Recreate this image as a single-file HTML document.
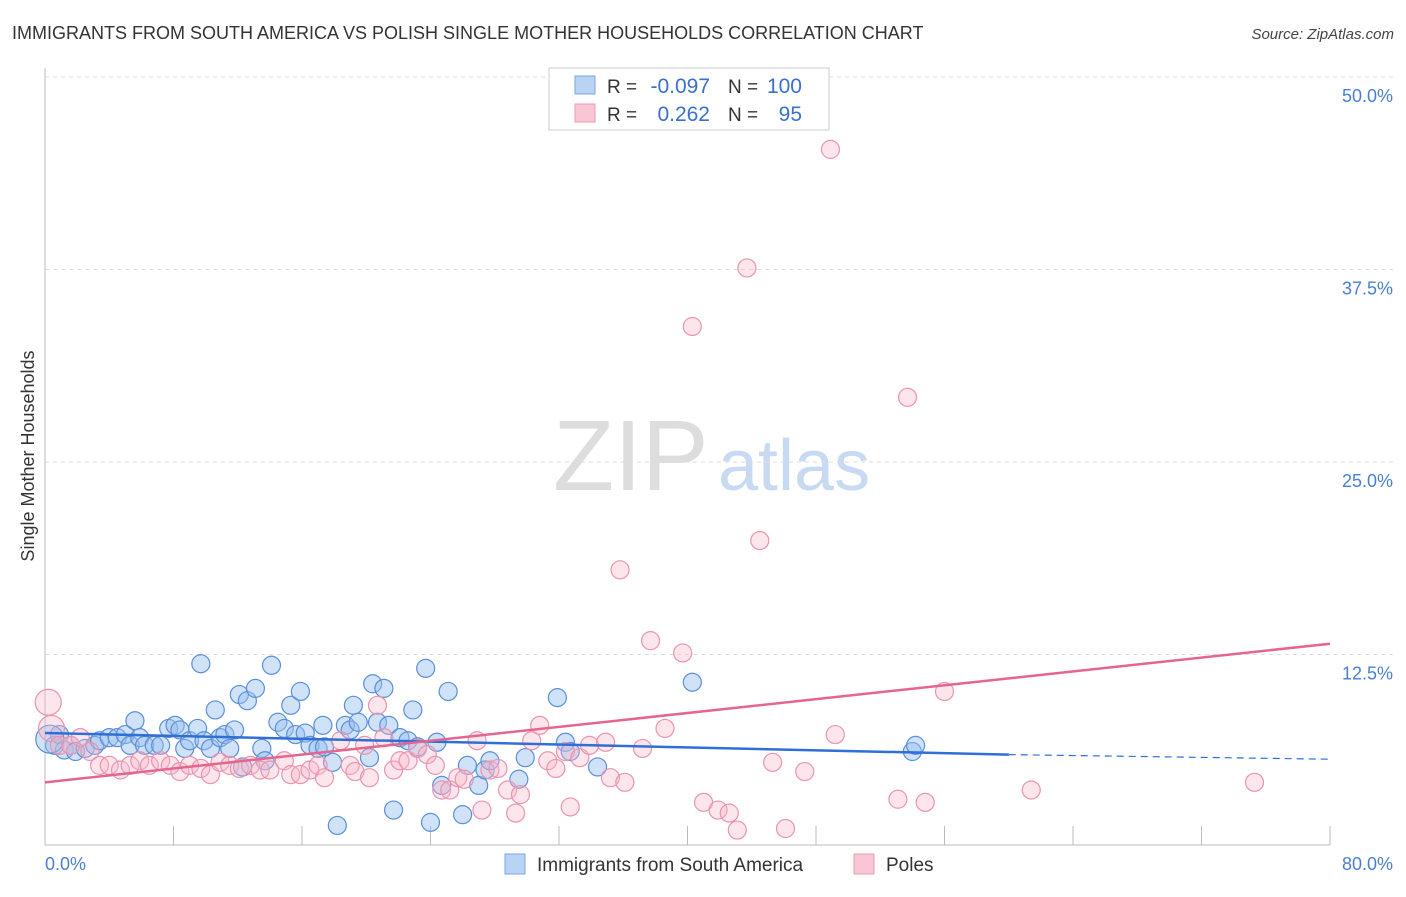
<!DOCTYPE html>
<html><head><meta charset="utf-8"><style>
body{margin:0;background:#fff;font-family:"Liberation Sans",sans-serif;}
svg text{font-family:"Liberation Sans",sans-serif;}
</style></head><body>
<svg id="chart" width="1406" height="892" xmlns="http://www.w3.org/2000/svg">
<text x="12" y="39" font-size="18" fill="#333">IMMIGRANTS FROM SOUTH AMERICA VS POLISH SINGLE MOTHER HOUSEHOLDS CORRELATION CHART</text>
<text x="1394" y="39" font-size="15" fill="#444" text-anchor="end" font-style="italic">Source: ZipAtlas.com</text>
<g><text x="553" y="490" font-size="100" fill="#ddd" font-family="Liberation Serif">ZIP</text><text x="718" y="490" font-size="72" fill="#c8daf2">atlas</text></g>
<g id="grid"></g>
<line x1="45" y1="68" x2="45" y2="845" stroke="#bbb"/>
<line x1="45" y1="845" x2="1330" y2="845" stroke="#bbb"/>
<g id="ticks"></g>
<text transform="translate(34,456) rotate(-90)" font-size="18" fill="#333" text-anchor="middle">Single Mother Households</text>
<text x="45" y="870" font-size="18" fill="#4a7fd0">0.0%</text>
<text x="1393" y="870" font-size="18" fill="#4a7fd0" text-anchor="end">80.0%</text>
<g id="pts"></g>
<g id="lines"></g>
<g>
<rect x="549" y="68" width="280" height="62" fill="#fff" stroke="#ccc"/>
<rect x="575" y="76" width="20" height="18" fill="#b9d3f5" stroke="#7aa5e0"/>
<rect x="575" y="104" width="20" height="18" fill="#f9c6d5" stroke="#ec9ab3"/>
<text x="607" y="93" font-size="19" fill="#333">R =</text>
<text x="710" y="93" font-size="21" fill="#3a6fcf" text-anchor="end">-0.097</text>
<text x="728" y="93" font-size="19" fill="#333">N =</text>
<text x="802" y="93" font-size="21" fill="#3a6fcf" text-anchor="end">100</text>
<text x="607" y="121" font-size="19" fill="#333">R =</text>
<text x="710" y="121" font-size="21" fill="#3a6fcf" text-anchor="end">0.262</text>
<text x="728" y="121" font-size="19" fill="#333">N =</text>
<text x="802" y="121" font-size="21" fill="#3a6fcf" text-anchor="end">95</text>
</g>
<g>
<rect x="505" y="854" width="20" height="20" fill="#b9d3f5" stroke="#7aa5e0"/>
<text x="537" y="871" font-size="19" fill="#333">Immigrants from South America</text>
<rect x="854" y="854" width="20" height="20" fill="#f9c6d5" stroke="#ec9ab3"/>
<text x="886" y="871" font-size="19" fill="#333">Poles</text>
</g>
</svg>
<script>
const yTicks=[12.5,25,37.5,50];
const yTickLabels=["12.5%","25.0%","37.5%","50.0%"];
const xTicks=[0,8,16,24,32,40,48,56,64,72,80];
const blueX=[0.6,0.9,1.2,1.6,1.9,2.5,3.1,3.4,4.0,4.5,5.0,5.3,5.6,5.9,6.2,6.8,7.2,7.7,8.1,8.4,8.7,9.0,9.5,9.7,9.9,10.3,10.6,10.9,11.2,11.5,11.8,12.1,12.3,12.6,13.1,13.5,13.7,14.1,14.5,14.9,15.3,15.6,15.9,16.2,16.5,17.0,17.3,17.4,17.9,18.2,18.7,19.0,19.2,19.5,20.2,20.4,20.7,21.1,21.4,21.7,22.1,22.6,22.9,23.2,23.7,24.0,24.4,24.7,25.1,26.0,26.3,27.0,27.4,27.7,29.5,29.9,31.9,32.4,32.7,34.4,40.3,54.0,54.2,0.3];
const blueY=[6.6,7.3,6.3,6.6,6.2,6.4,6.6,6.9,7.1,7.1,7.3,6.6,8.2,7.1,6.6,6.6,6.6,7.7,7.9,7.6,6.4,6.9,7.7,11.9,6.9,6.4,8.9,7.1,7.3,6.4,7.6,9.9,5.2,9.5,10.3,6.4,5.6,11.8,8.1,7.7,9.2,7.3,10.1,7.4,6.6,6.4,7.9,6.5,5.5,1.4,7.9,7.6,9.2,8.1,5.8,10.6,8.1,10.3,7.9,2.4,7.1,6.9,8.9,6.5,11.6,1.6,6.8,4.0,10.1,2.1,5.3,4.0,5.0,5.6,4.4,5.8,9.7,6.8,6.2,5.2,10.7,6.2,6.6,7.0];
const pinkX=[0.2,0.4,0.9,1.6,2.2,2.8,3.4,4.0,4.7,5.3,5.9,6.5,7.2,7.8,8.4,9.0,9.7,10.3,10.9,11.5,12.1,12.8,13.4,14.0,14.9,15.3,15.9,16.5,17.0,17.4,18.4,19.0,19.3,19.9,20.2,20.7,21.1,21.7,22.1,22.6,23.2,23.8,24.3,24.7,25.2,25.7,26.1,26.9,27.2,27.7,28.2,28.8,29.3,29.6,30.3,30.8,31.3,31.8,32.4,32.7,33.3,33.9,34.9,35.2,35.8,36.1,37.2,37.7,38.6,39.7,40.3,41.0,41.9,42.6,43.1,43.7,44.5,45.3,46.1,47.3,48.9,49.2,53.1,53.7,54.8,56.0,61.4,75.3];
const pinkY=[9.4,7.7,6.6,6.6,7.1,6.2,5.3,5.3,5.0,5.3,5.6,5.3,5.6,5.3,4.9,5.3,5.1,4.7,5.5,5.3,5.1,5.3,5.0,5.0,5.6,4.7,4.7,5.0,5.3,4.5,6.9,5.3,4.9,6.6,4.5,9.2,7.1,5.0,5.6,5.6,6.4,6.0,5.3,3.7,3.7,4.5,4.4,6.9,2.4,5.0,5.1,3.7,2.2,3.4,6.9,7.9,5.6,5.1,6.2,2.6,5.8,6.6,6.8,4.5,18.0,4.2,6.4,13.4,7.7,12.6,33.8,2.9,2.4,2.2,1.1,37.6,19.9,5.5,1.2,4.9,45.3,7.3,3.1,29.2,2.9,10.1,3.7,4.2];
const blueTrend=[7.4,6.0,5.7]; // at x=0, 60, 80
const pinkTrend=[4.2,13.2];    // at x=0, 80
const NS="http://www.w3.org/2000/svg";
const sx=v=>45+v/80*1285;
const sy=v=>847-v*15.4;
function mk(tag,at,parent){const e=document.createElementNS(NS,tag);for(const k in at)e.setAttribute(k,at[k]);document.getElementById(parent).appendChild(e);return e;}
yTicks.forEach((t,i)=>{
 const l=mk('line',{x1:45,x2:1393,y1:sy(t),y2:sy(t),stroke:'#ddd','stroke-dasharray':'4,4'},'grid');
 
 
 const tx=mk('text',{x:1393,y:sy(t)+25,'font-size':18,fill:'#4a7fd0','text-anchor':'end'},'grid');
 tx.textContent=yTickLabels[i];
 
 
});
xTicks.forEach(t=>{
 const l=mk('line',{x1:sx(t),x2:sx(t),y1:826,y2:845,stroke:'#bbb'},'ticks');
 
 
});
blueX.forEach((x,i)=>{
 const c=mk('circle',{cx:sx(x),cy:sy(blueY[i]),r:i==blueX.length-1?14:9,fill:'rgba(150,190,240,0.45)',stroke:'#5b8fd8','stroke-width':1.2},'pts');
 
 
});
pinkX.forEach((x,i)=>{
 const c=mk('circle',{cx:sx(x),cy:sy(pinkY[i]),r:i<2?13:9,fill:'rgba(248,180,200,0.35)',stroke:'#ea94ad','stroke-width':1.2},'pts');
 
 
});
let l1=mk('line',{x1:sx(0),y1:sy(blueTrend[0]),x2:sx(60),y2:sy(blueTrend[1]),stroke:'#2f6fd6','stroke-width':2.5},'lines');


let l2=mk('line',{x1:sx(60),y1:sy(blueTrend[1]),x2:sx(80),y2:sy(blueTrend[2]),stroke:'#2f6fd6','stroke-width':1.2,'stroke-dasharray':'7,5'},'lines');


let l3=mk('line',{x1:sx(0),y1:sy(pinkTrend[0]),x2:sx(80),y2:sy(pinkTrend[1]),stroke:'#e5658f','stroke-width':2.5},'lines');


</script>
</body></html>
